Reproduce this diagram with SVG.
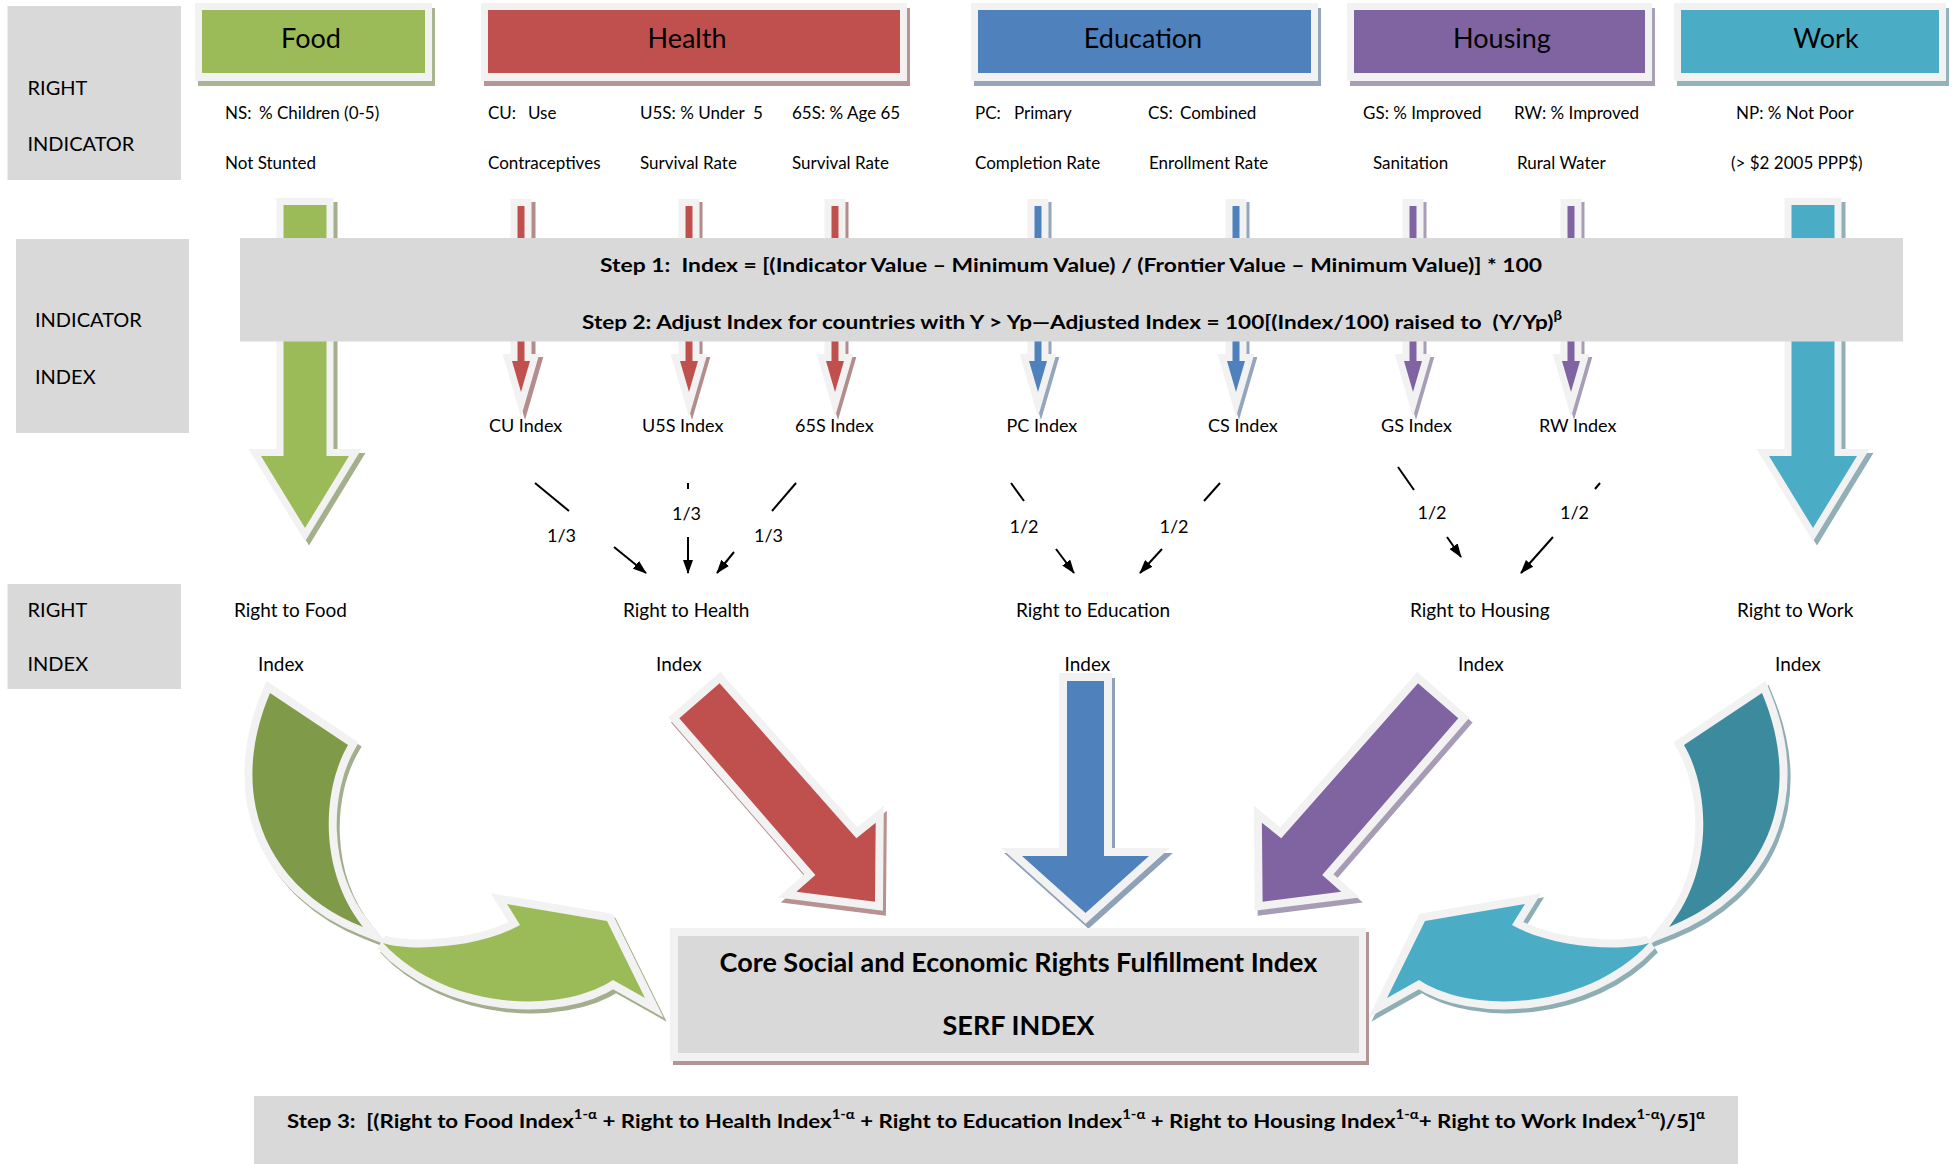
<svg xmlns="http://www.w3.org/2000/svg" xmlns:xlink="http://www.w3.org/1999/xlink" width="1958" height="1164" viewBox="0 0 1958 1164">
<style>
text{font-family:Lato,"Liberation Sans",sans-serif;fill:#000}
.hd{font-size:27px;text-anchor:middle}
.side{font-size:20px}
.desc{font-size:17px}
.idx{font-size:18px}
.frac{font-size:18px;text-anchor:middle}
.rt{font-size:19px}
.step{font-size:19.5px;font-weight:bold}
.title{font-size:27px;font-weight:bold;text-anchor:middle}
.gray{fill:#d9d9d9}
.frm{fill:#f2f2f2}
.fr8{stroke:#f2f2f2;stroke-width:16;paint-order:stroke;stroke-linejoin:miter}
.fr7{stroke:#f2f2f2;stroke-width:14;paint-order:stroke;stroke-linejoin:miter}
.w{stroke:#000;stroke-width:2;fill:none}
</style>
<defs>
<path id="ta" d="M-3.5,0 H3.5 V155 H9 L0,186 L-9,155 H-3.5 Z"/>
<path id="ba" d="M-21.5,0 H21.5 V251 H44 L0,323 L-44,251 H-21.5 Z"/>
<path id="cdark" d="M270,693 L348,745 C322,790 318,870 363,927 C270,890 225,800 270,693 Z"/>
<path id="clight" d="M383,943 C410,952 480,948 520,925 L507,904 L607,921 L645,998 L613,980 C560,1015 445,1010 383,943 Z"/>
<marker id="ah" viewBox="0 0 14 10" refX="13" refY="5" markerWidth="14" markerHeight="10" markerUnits="userSpaceOnUse" orient="auto">
<path d="M0,0 L14,5 L0,10 Z" fill="#000"/>
</marker>
<clipPath id="clip2"><rect x="0" y="0" width="1958" height="331"/></clipPath>
</defs>

<!-- side labels -->
<g id="label-right-indicator">
<rect class="gray" x="7.5" y="6" width="173.5" height="174"/>
<text class="side" x="27.5" y="95">RIGHT</text>
<text class="side" x="27.5" y="150.5">INDICATOR</text>
</g>
<g id="label-indicator-index">
<rect class="gray" x="16" y="239" width="173" height="194"/>
<text class="side" x="35" y="327">INDICATOR</text>
<text class="side" x="35" y="384">INDEX</text>
</g>
<g id="label-right-index">
<rect class="gray" x="7.5" y="584" width="173.5" height="105"/>
<text class="side" x="27.5" y="617">RIGHT</text>
<text class="side" x="27.5" y="670.5">INDEX</text>
</g>

<!-- header boxes -->
<g id="food">
<rect x="198" y="8" width="237" height="78" fill="#a9b590"/>
<rect class="frm" x="195" y="3" width="237" height="78"/>
<rect x="202" y="10" width="223" height="63" fill="#9bbb59"/>
<text class="hd" x="311" y="48">Food</text>
</g>
<g id="health">
<rect x="484" y="8" width="426" height="78" fill="#b99494"/>
<rect class="frm" x="481" y="3" width="426" height="78"/>
<rect x="488" y="10" width="412" height="63" fill="#c0504d"/>
<text class="hd" x="687" y="48">Health</text>
</g>
<g id="education">
<rect x="974" y="8" width="347" height="78" fill="#95a6bc"/>
<rect class="frm" x="971" y="3" width="347" height="78"/>
<rect x="978" y="10" width="333" height="63" fill="#4f81bd"/>
<text class="hd" x="1143" y="48">Education</text>
</g>
<g id="housing">
<rect x="1350" y="8" width="305" height="78" fill="#a89fb7"/>
<rect class="frm" x="1347" y="3" width="305" height="78"/>
<rect x="1354" y="10" width="291" height="63" fill="#8064a2"/>
<text class="hd" x="1502" y="48">Housing</text>
</g>
<g id="work">
<rect x="1677" y="8" width="272" height="78" fill="#94b2ba"/>
<rect class="frm" x="1674" y="3" width="272" height="78"/>
<rect x="1681" y="10" width="258" height="63" fill="#4bacc6"/>
<text class="hd" x="1826" y="48">Work</text>
</g>

<!-- indicator descriptions -->
<g id="ind-ns">
<text class="desc" x="225" y="118.5" xml:space="preserve">NS:  <tspan x="259">% Children (0-5)</tspan></text>
<text class="desc" x="225" y="169">Not Stunted</text>
</g>
<g id="ind-cu">
<text class="desc" x="488" y="118.5" xml:space="preserve">CU:   <tspan x="528">Use</tspan></text>
<text class="desc" x="488" y="169">Contraceptives</text>
</g>
<g id="ind-u5s">
<text class="desc" x="640" y="118.5" xml:space="preserve">U5S: % Under  <tspan x="753">5</tspan></text>
<text class="desc" x="640" y="169">Survival Rate</text>
</g>
<g id="ind-65s">
<text class="desc" x="792" y="118.5">65S: % Age 65</text>
<text class="desc" x="792" y="169">Survival Rate</text>
</g>
<g id="ind-pc">
<text class="desc" x="975" y="118.5" xml:space="preserve">PC:   <tspan x="1014">Primary</tspan></text>
<text class="desc" x="975" y="169">Completion Rate</text>
</g>
<g id="ind-cs">
<text class="desc" x="1148" y="118.5" xml:space="preserve">CS:  <tspan x="1180">Combined</tspan></text>
<text class="desc" x="1149" y="169">Enrollment Rate</text>
</g>
<g id="ind-gs">
<text class="desc" x="1363" y="118.5">GS: % Improved</text>
<text class="desc" x="1373" y="169">Sanitation</text>
</g>
<g id="ind-rw">
<text class="desc" x="1514" y="118.5">RW: % Improved</text>
<text class="desc" x="1517" y="169">Rural Water</text>
</g>
<g id="ind-np">
<text class="desc" x="1736" y="118.5">NP: % Not Poor</text>
<text class="desc" x="1731" y="169">(&gt; $2 2005 PPP$)</text>
</g>

<!-- connectors -->
<g id="connectors">
<!-- big vertical arrows -->
<use href="#ba" transform="translate(309,209)" fill="#a4b08b" stroke="#a4b08b" stroke-width="14"/>
<use href="#ba" transform="translate(305,205)" class="fr7" fill="#9bbb59"/>
<use href="#ba" transform="translate(1817,209)" fill="#90afb7" stroke="#90afb7" stroke-width="14"/>
<use href="#ba" transform="translate(1813,205)" class="fr7" fill="#4bacc6"/>
<!-- thin arrows -->
<g fill="#b58c8c" stroke="#b58c8c" stroke-width="14">
<use href="#ta" transform="translate(525,209)"/>
<use href="#ta" transform="translate(692,209)"/>
<use href="#ta" transform="translate(838,209)"/>
</g>
<g fill="#95a5bb" stroke="#95a5bb" stroke-width="14">
<use href="#ta" transform="translate(1041,209)"/>
<use href="#ta" transform="translate(1239,209)"/>
</g>
<g fill="#a79db6" stroke="#a79db6" stroke-width="14">
<use href="#ta" transform="translate(1416,209)"/>
<use href="#ta" transform="translate(1574,209)"/>
</g>
<g class="fr7" fill="#c0504d">
<use href="#ta" transform="translate(521,206)"/>
<use href="#ta" transform="translate(689,206)"/>
<use href="#ta" transform="translate(835,206)"/>
</g>
<g class="fr7" fill="#4f81bd">
<use href="#ta" transform="translate(1038,206)"/>
<use href="#ta" transform="translate(1236,206)"/>
</g>
<g class="fr7" fill="#8064a2">
<use href="#ta" transform="translate(1413,206)"/>
<use href="#ta" transform="translate(1571,206)"/>
</g>

<!-- weight lines and arrows -->
<g class="w">
<line x1="535" y1="483" x2="569" y2="511"/>
<line x1="614" y1="547" x2="646" y2="573" marker-end="url(#ah)"/>
<line x1="688" y1="483" x2="688" y2="489"/>
<line x1="688" y1="537" x2="688" y2="573" marker-end="url(#ah)"/>
<line x1="796" y1="483" x2="772" y2="511"/>
<line x1="734" y1="552" x2="717" y2="573" marker-end="url(#ah)"/>
<line x1="1011" y1="483" x2="1024" y2="501"/>
<line x1="1056" y1="549" x2="1074" y2="573" marker-end="url(#ah)"/>
<line x1="1220" y1="483" x2="1204" y2="501"/>
<line x1="1162" y1="549" x2="1140" y2="573" marker-end="url(#ah)"/>
<line x1="1398" y1="467" x2="1414" y2="490"/>
<line x1="1447" y1="537" x2="1461" y2="557" marker-end="url(#ah)"/>
<line x1="1600" y1="483" x2="1595" y2="489"/>
<line x1="1553" y1="537" x2="1521" y2="573" marker-end="url(#ah)"/>
</g>
<text class="frac" x="561.5" y="541.5">1/3</text>
<text class="frac" x="686.5" y="519.5">1/3</text>
<text class="frac" x="768.5" y="541.5">1/3</text>
<text class="frac" x="1024" y="532.5">1/2</text>
<text class="frac" x="1174" y="532.5">1/2</text>
<text class="frac" x="1432" y="519">1/2</text>
<text class="frac" x="1574.5" y="519">1/2</text>

<!-- big arrows into SERF -->
<g id="arrow-food-serf">
<use href="#cdark" transform="translate(3,4)" fill="#a3ae8c" stroke="#a3ae8c" stroke-width="16"/>
<use href="#clight" transform="translate(3,4)" fill="#a3ae8c" stroke="#a3ae8c" stroke-width="16"/>
<use href="#cdark" class="fr8" fill="#7f9a48"/>
<use href="#clight" class="fr8" fill="#9bbb59"/>
</g>
<g id="arrow-work-serf" transform="matrix(-1,0,0,1,2032,0)">
<use href="#cdark" transform="translate(-3,4)" fill="#8eaeb6" stroke="#8eaeb6" stroke-width="16"/>
<use href="#clight" transform="translate(-3,4)" fill="#8eaeb6" stroke="#8eaeb6" stroke-width="16"/>
<use href="#cdark" class="fr8" fill="#3c8a9e"/>
<use href="#clight" class="fr8" fill="#4bacc6"/>
</g>
<g id="arrow-health-serf">
<path transform="translate(3,5)" d="M679.3,718.3 L719.6,683.3 L856.4,838.3 L875.7,822.7 L875,901.7 L796.4,891.7 L815.4,875 Z" fill="#b89191" stroke="#b89191" stroke-width="16"/>
<path class="fr8" d="M679.3,718.3 L719.6,683.3 L856.4,838.3 L875.7,822.7 L875,901.7 L796.4,891.7 L815.4,875 Z" fill="#c0504d"/>
</g>
<g id="arrow-education-serf">
<path transform="translate(3,5)" d="M1067,681 H1104 V856 H1149 L1085.5,913 L1022,856 H1067 Z" fill="#8fa1b8" stroke="#8fa1b8" stroke-width="16"/>
<path class="fr8" d="M1067,681 H1104 V856 H1149 L1085.5,913 L1022,856 H1067 Z" fill="#4f81bd"/>
</g>
<g id="arrow-housing-serf">
<path transform="translate(3,5)" d="M1458.3,718.3 L1418,683.3 L1281.2,838.3 L1261.9,822.7 L1262.6,901.7 L1341.2,891.7 L1322.2,875 Z" fill="#a79cb5" stroke="#a79cb5" stroke-width="16"/>
<path class="fr8" d="M1458.3,718.3 L1418,683.3 L1281.2,838.3 L1261.9,822.7 L1262.6,901.7 L1341.2,891.7 L1322.2,875 Z" fill="#8064a2"/>
</g>
</g>

<!-- step 1/2 box -->
<g id="steps12">
<rect class="gray" x="240" y="238" width="1663" height="103.5"/>
<text class="step" x="600" y="272" textLength="942" lengthAdjust="spacingAndGlyphs" xml:space="preserve">Step 1:  Index = [(Indicator Value – Minimum Value) / (Frontier Value – Minimum Value)] * 100</text>
<text class="step" x="582" y="329" clip-path="url(#clip2)" textLength="980" lengthAdjust="spacingAndGlyphs" xml:space="preserve">Step 2: Adjust Index for countries with Y &gt; Yp—Adjusted Index = 100[(Index/100) raised to  (Y/Yp)<tspan dy="-9" font-size="13">β</tspan></text>
</g>

<!-- indicator indices -->
<g id="idx-cu"><text class="idx" x="489" y="431.5">CU Index</text></g>
<g id="idx-u5s"><text class="idx" x="642" y="431.5">U5S Index</text></g>
<g id="idx-65s"><text class="idx" x="795" y="431.5">65S Index</text></g>
<g id="idx-pc"><text class="idx" x="1006.5" y="431.5">PC Index</text></g>
<g id="idx-cs"><text class="idx" x="1208" y="431.5">CS Index</text></g>
<g id="idx-gs"><text class="idx" x="1381" y="431.5">GS Index</text></g>
<g id="idx-rw"><text class="idx" x="1539" y="431.5">RW Index</text></g>

<!-- right indices -->
<g id="right-food"><text class="rt" x="234" y="617">Right to Food</text><text class="rt" x="258" y="670.5">Index</text></g>
<g id="right-health"><text class="rt" x="623" y="617">Right to Health</text><text class="rt" x="656" y="670.5">Index</text></g>
<g id="right-education"><text class="rt" x="1016" y="617">Right to Education</text><text class="rt" x="1064.5" y="670.5">Index</text></g>
<g id="right-housing"><text class="rt" x="1410" y="617">Right to Housing</text><text class="rt" x="1458" y="670.5">Index</text></g>
<g id="right-work"><text class="rt" x="1737" y="617">Right to Work</text><text class="rt" x="1775" y="670.5">Index</text></g>

<!-- SERF box -->
<g id="serf">
<rect x="673" y="932" width="696" height="133" fill="#b39595"/>
<rect class="frm" x="670" y="928" width="696" height="133"/>
<rect class="gray" x="678" y="936" width="681" height="117"/>
<text class="title" x="1018.5" y="972">Core Social and Economic Rights Fulfillment Index</text>
<text class="title" x="1018.5" y="1035" font-size="26">SERF INDEX</text>
</g>

<!-- step 3 -->
<g id="step3">
<rect class="gray" x="254" y="1096" width="1484" height="68"/>
<text class="step" x="287" y="1128" textLength="1418" lengthAdjust="spacingAndGlyphs" xml:space="preserve">Step 3:  [(Right to Food Index<tspan dy="-9" font-size="13">1-α</tspan><tspan dy="9"> + Right to Health Index</tspan><tspan dy="-9" font-size="13">1-α</tspan><tspan dy="9"> + Right to Education Index</tspan><tspan dy="-9" font-size="13">1-α</tspan><tspan dy="9"> + Right to Housing Index</tspan><tspan dy="-9" font-size="13">1-α</tspan><tspan dy="9">+ Right to Work Index</tspan><tspan dy="-9" font-size="13">1-α</tspan><tspan dy="9">)/5]</tspan><tspan dy="-9" font-size="13">α</tspan></text>
</g>
</svg>
